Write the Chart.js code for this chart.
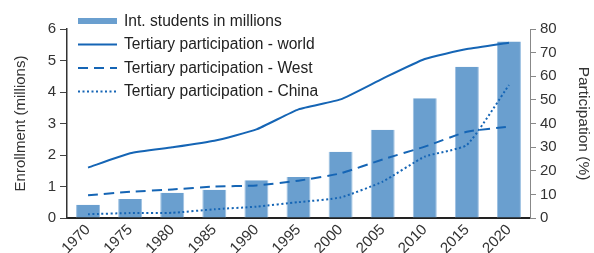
<!DOCTYPE html>
<html>
<head>
<meta charset="utf-8">
<script src="https://cdn.jsdelivr.net/npm/chart.js@4/dist/chart.umd.min.js"></script>
<style>
html,body{margin:0;padding:0;background:#fff;}
#wrap{width:594px;height:253px;}
</style>
</head>
<body>
<div id="wrap"><canvas id="c" width="594" height="253"></canvas></div>
<script>
const years = ['1970','1975','1980','1985','1990','1995','2000','2005','2010','2015','2020'];
const intStudents = [0.42,0.6,0.8,0.9,1.2,1.3,2.1,2.8,3.8,4.8,5.6];
const worldParticipation = [21.3,27.4,29.9,32.7,37.5,46,50.2,59,67.3,71.5,74.2];
const westParticipation = [9.6,11.1,12.1,13.3,13.8,15.8,18.9,24.8,30.2,36.5,38.7];
const chinaParticipation = [1.6,2.1,2.2,3.7,4.8,6.7,8.7,15.4,26,30.9,56.3];
const seriesLabels = ['Int. students in millions','Tertiary participation - world','Tertiary participation - West','Tertiary participation - China'];
const leftAxisTitle = 'Enrollment (millions)';
const rightAxisTitle = 'Participation (%)';

const BAR = '#6a9fcf';
const LINE = '#1565b5';
const FONT = 'Liberation Sans';

const legendPlugin = {
  id: 'insideLegend',
  afterDraw(chart) {
    const ctx = chart.ctx;
    const x0 = 78, x1 = 117, tx = 124;
    const ys = [21, 44.5, 68, 91.5];
    const styles = [
      {w: 6, c: BAR, d: []},
      {w: 2, c: LINE, d: []},
      {w: 2, c: LINE, d: [10, 6]},
      {w: 2, c: LINE, d: [2, 2.5]}
    ];
    ctx.save();
    seriesLabels.forEach((lab, i) => {
      const s = styles[i];
      ctx.beginPath();
      ctx.lineWidth = s.w;
      ctx.strokeStyle = s.c;
      ctx.setLineDash(s.d);
      ctx.moveTo(x0, ys[i]);
      ctx.lineTo(x1, ys[i]);
      ctx.stroke();
      ctx.setLineDash([]);
      ctx.fillStyle = '#222';
      ctx.font = '15.6px "' + FONT + '"';
      ctx.textBaseline = 'middle';
      ctx.textAlign = 'left';
      ctx.fillText(lab, tx, ys[i] + 0.5);
    });
    ctx.restore();
  }
};

new Chart(document.getElementById('c'), {
  data: {
    labels: years,
    datasets: [
      {type: 'line', label: seriesLabels[1], data: worldParticipation, yAxisID: 'y1', borderColor: LINE, borderWidth: 2, pointRadius: 0, tension: 0.15, fill: false, order: 1},
      {type: 'line', label: seriesLabels[2], data: westParticipation, yAxisID: 'y1', borderColor: LINE, borderWidth: 2, borderDash: [10, 6], pointRadius: 0, tension: 0.15, fill: false, order: 1},
      {type: 'line', label: seriesLabels[3], data: chinaParticipation, yAxisID: 'y1', borderColor: LINE, borderWidth: 2, borderDash: [2, 2.5], pointRadius: 0, tension: 0.15, fill: false, order: 1},
      {type: 'bar', label: seriesLabels[0], data: intStudents, yAxisID: 'y', backgroundColor: BAR, borderColor: '#9cc0e2', borderWidth: {left:1,right:1,top:0,bottom:0}, barPercentage: 0.57, categoryPercentage: 1.0, order: 2}
    ]
  },
  options: {
    responsive: false,
    animation: false,
    devicePixelRatio: 1,
    layout: {padding: {top: 29, left: 0, right: 0, bottom: 0}},
    plugins: {legend: {display: false}, tooltip: {enabled: false}},
    scales: {
      x: {
        offset: true,
        grid: {display: true, drawOnChartArea: false, drawTicks: false},
        border: {display: true, color: '#222', width: 2},
        ticks: {minRotation: 45, maxRotation: 45, color: '#333', font: {family: FONT, size: 15}, padding: 3},
        afterFit(s) { s.height = 35; }
      },
      y: {
        position: 'left',
        min: 0, max: 6,
        ticks: {stepSize: 1, color: '#333', font: {family: FONT, size: 15}, padding: 4},
        grid: {display: true, drawOnChartArea: false, drawTicks: true, tickLength: 7, tickColor: '#444', tickWidth: 1},
        border: {display: true, color: '#333', width: 1.5},
        title: {display: true, text: leftAxisTitle, color: '#333', font: {family: FONT, size: 15}, padding: {top: 12, bottom: 0}},
        afterFit(s) { s.width = 67; }
      },
      y1: {
        position: 'right',
        min: 0, max: 80,
        ticks: {stepSize: 10, color: '#333', font: {family: FONT, size: 15}, padding: 4},
        grid: {display: true, drawOnChartArea: false, drawTicks: true, tickLength: 6, tickColor: '#888', tickWidth: 1},
        border: {display: true, color: '#888', width: 1},
        title: {display: true, text: rightAxisTitle, color: '#333', font: {family: FONT, size: 15.5}, padding: {top: 1, bottom: 0}},
        afterFit(s) { s.width = 64; }
      }
    }
  },
  plugins: [legendPlugin]
});
</script>
</body>
</html>
